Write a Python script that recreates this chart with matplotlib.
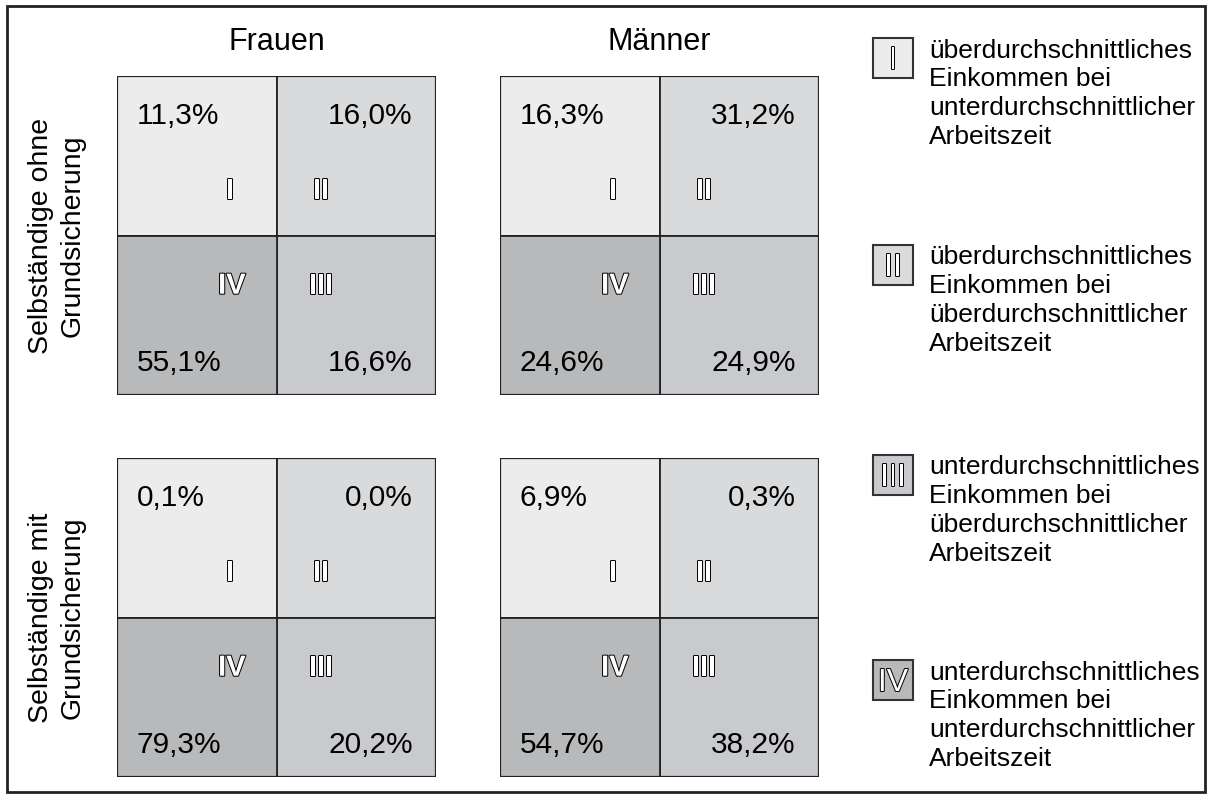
import matplotlib
matplotlib.use("Agg")
import matplotlib.pyplot as plt
from matplotlib.patches import Rectangle
import matplotlib.patheffects as pe

plt.rcParams['font.family'] = ['Liberation Sans', 'DejaVu Sans']

columns = ["Frauen", "Männer"]
rows = ["Selbständige ohne\nGrundsicherung", "Selbständige mit\nGrundsicherung"]
quadrants = ["I", "II", "III", "IV"]
# values per panel: [I (top-left), II (top-right), III (bottom-right), IV (bottom-left)]
values = {
    ("Selbständige ohne\nGrundsicherung", "Frauen"): ["11,3%", "16,0%", "16,6%", "55,1%"],
    ("Selbständige ohne\nGrundsicherung", "Männer"): ["16,3%", "31,2%", "24,9%", "24,6%"],
    ("Selbständige mit\nGrundsicherung", "Frauen"): ["0,1%", "0,0%", "20,2%", "79,3%"],
    ("Selbständige mit\nGrundsicherung", "Männer"): ["6,9%", "0,3%", "38,2%", "54,7%"],
}
legend_texts = [
    "überdurchschnittliches\nEinkommen bei\nunterdurchschnittlicher\nArbeitszeit",
    "überdurchschnittliches\nEinkommen bei\nüberdurchschnittlicher\nArbeitszeit",
    "unterdurchschnittliches\nEinkommen bei\nüberdurchschnittlicher\nArbeitszeit",
    "unterdurchschnittliches\nEinkommen bei\nunterdurchschnittlicher\nArbeitszeit",
]
colors = {"I": "#ebeceb", "II": "#d9dadc", "III": "#c9cacd", "IV": "#b8b9bb"}

W, H = 1212, 799
fig = plt.figure(figsize=(W / 100, H / 100), dpi=100)
fig.patch.set_facecolor("white")

def fx(px):
    return px / W

def fy(py):
    return 1 - py / H

# pixel-space overlay for frame & legend
frame = fig.add_axes([0, 0, 1, 1])
frame.set_xlim(0, W)
frame.set_ylim(H, 0)
frame.axis("off")
frame.add_patch(Rectangle((7, 6), 1198, 786, fill=False, edgecolor="#222222", lw=2))

stroke = [pe.withStroke(linewidth=1.4, foreground="black")]

panel_x = [117, 500]
panel_y = [76, 458]
pw, ph = 319, 319

for ri, row in enumerate(rows):
    for ci, col in enumerate(columns):
        x0, y0 = panel_x[ci], panel_y[ri]
        ax = fig.add_axes([fx(x0), fy(y0 + ph), fx(pw), ph / H])
        ax.set_xlim(0, 2)
        ax.set_ylim(0, 2)
        ax.axis("off")
        cells = {"I": (0, 1), "II": (1, 1), "III": (1, 0), "IV": (0, 0)}
        for q, (cx, cy) in cells.items():
            ax.add_patch(Rectangle((cx, cy), 1, 1, facecolor=colors[q],
                                   edgecolor="#222222", lw=1.3))
        ax.add_patch(Rectangle((0, 0), 2, 2, fill=False, edgecolor="#222222", lw=1.6))
        vals = values[(row, col)]
        ax.text(0.125, 1.70, vals[0], ha="left", va="baseline", fontsize=21.5)
        ax.text(1.855, 1.70, vals[1], ha="right", va="baseline", fontsize=21.5)
        ax.text(1.855, 0.15, vals[2], ha="right", va="baseline", fontsize=21.5)
        ax.text(0.125, 0.15, vals[3], ha="left", va="baseline", fontsize=21.5)
        # roman numerals
        kw = dict(ha="center", va="baseline", fontsize=21, fontweight="bold",
                  color="white", path_effects=stroke)
        ax.text(0.71, 1.23, "I", **kw)
        ax.text(1.28, 1.23, "II", **kw)
        ax.text(1.28, 0.635, "III", **kw)
        ax.text(0.72, 0.635, "IV", **kw)

# column titles
for ci, col in enumerate(columns):
    fig.text(fx(panel_x[ci] + pw / 2), fy(42), col, ha="center", va="center", fontsize=22)

# row labels
for ri, row in enumerate(rows):
    fig.text(fx(57), fy(panel_y[ri] + ph / 2), row, ha="center", va="center",
             rotation=90, fontsize=20.5, linespacing=1.3)

# legend
leg_box_y = [38, 245, 455, 660]
for i, q in enumerate(quadrants):
    by = leg_box_y[i]
    frame.add_patch(Rectangle((873, by), 40, 40, facecolor=colors[q],
                              edgecolor="#333333", lw=1.5))
    frame.text(893, by + 31, q, ha="center", va="baseline", fontsize=23,
               color="white", path_effects=stroke)
    frame.text(929, by + 0.5, legend_texts[i], ha="left", va="top",
               fontsize=19, linespacing=1.25)

fig.savefig("out.png", dpi=100)
